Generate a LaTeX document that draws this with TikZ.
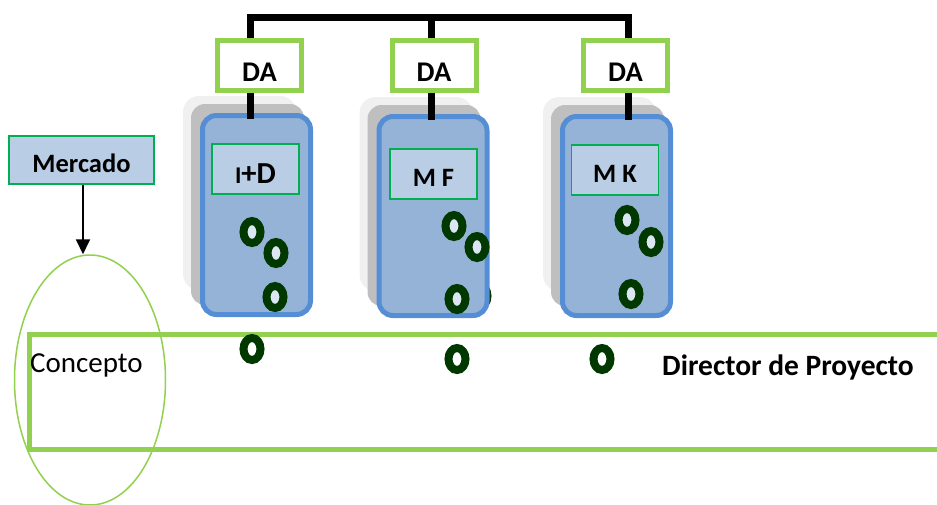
\documentclass[tikz,border=0pt]{standalone}
\usepackage{fontspec}
\setmainfont{Carlito}
\usetikzlibrary{arrows.meta,shapes.geometric}

\definecolor{leaf}{HTML}{92D050}
\definecolor{unitedge}{HTML}{558ED5}
\definecolor{unitfill}{HTML}{95B3D7}
\definecolor{tagedge}{HTML}{00B050}
\definecolor{tagfill}{HTML}{B9CDE5}
\definecolor{ringgreen}{RGB}{0,56,0}
\definecolor{holefill}{HTML}{DCE6F2}
\definecolor{shadowgray}{HTML}{BFBFBF}
\definecolor{halo}{HTML}{F0F0F0}

\pgfdeclarelayer{shade}
\pgfsetlayers{shade,main}

\tikzset{
  bus/.style={line width=7pt, black},
  dabox/.style={draw=leaf, line width=5pt, fill=white, minimum width=84pt,
    minimum height=50pt, inner sep=0pt,
    font=\bfseries\fontsize{28.5}{30}\selectfont, text height=31pt, text depth=0pt},
  unit/.style={draw=unitedge, fill=unitfill, line width=5pt, rounded corners=14pt,
    minimum width=108pt, minimum height=199pt, inner sep=0pt},
  tag/.style={draw=tagedge, fill=tagfill, line width=1.5pt, minimum width=87pt,
    minimum height=50pt, inner sep=0pt,
    font=\bfseries\fontsize{26.5}{28}\selectfont, text height=24pt, text depth=0pt},
  ring/.style={ellipse, draw=ringgreen, line width=8pt, minimum width=17pt,
    minimum height=22pt, inner sep=0pt, fill=holefill},
  outring/.style={ring, fill=white},
}

\begin{document}
\begin{tikzpicture}[x=1pt,y=-1pt]
\useasboundingbox (0,0) rectangle (937,504);
\clip (0,0) rectangle (937,504);

% stem positions of the top bus
\coordinate (s1) at (250,0);
\coordinate (s2) at (431,0);
\coordinate (s3) at (628,0);
\coordinate (bar) at (0,17);

% department heads
\node[dabox] (da1) at (259.5,65.5) {DA};
\node[dabox] (da2) at (434,65.5) {DA};
\node[dabox] (da3) at (625.5,65.5) {DA};

% bus joining the department heads
\draw[bus] (s1 |- da1.north) -- (s1 |- bar) -- (s3 |- bar) -- (s3 |- da3.north);
\draw[bus] (s2 |- bar) -- (s2 |- da2.north);

% functional units
\node[unit] (u1) at (256.5,215) {};
\node[unit] (u2) at (433,216) {};
\node[unit] (u3) at (616.5,216) {};

% soft shadows behind the units
\begin{pgfonlayer}{shade}
  \foreach \u in {u1,u2,u3}{
    \fill[halo, rounded corners=16pt] ([shift={(-17,-17)}]\u.north west) rectangle ([shift={(-17,-27)}]\u.south east);
    \fill[shadowgray, rounded corners=14pt] ([shift={(-9,-9)}]\u.north west) rectangle ([shift={(-9,-12)}]\u.south east);
  }
  \node[ring] (r24) at (479,296) {};
\end{pgfonlayer}

% links from heads to units
\draw[bus, shorten >=-6pt] (s1 |- da1.south) -- (s1 |- u1.north);
\draw[bus, shorten >=-6pt] (s2 |- da2.south) -- (s2 |- u2.north);
\draw[bus, shorten >=-6pt] (s3 |- da3.south) -- (s3 |- u3.north);

% unit names
\node[tag, text height=28pt] (t1) at (255.5,169) {{\fontsize{24}{26}\selectfont I}{\fontsize{30.5}{32}\selectfont +D}};
\node[tag] (t2) at (433.5,174) {M F};
\node[tag] (t3) at (615,170) {M K};

% team members inside each unit
\node[ring] (r11) at (252,232) {};
\node[ring] (r12) at (276,253) {};
\node[ring] (r13) at (275,297) {};
\node[ring] (r21) at (454,226) {};
\node[ring] (r22) at (477,247) {};
\node[ring] (r23) at (457,299) {};
\node[ring] (r31) at (627,220) {};
\node[ring] (r32) at (651,242) {};
\node[ring] (r33) at (631,294) {};

% project band
\draw[leaf, line width=5pt] (950,334) -- (29.5,334) -- (29.5,449.5) -- (950,449.5);

% market and concept
\node[draw=tagedge, fill=tagfill, line width=1.5pt, minimum width=145pt,
  minimum height=48pt, inner sep=0pt, font=\bfseries\fontsize{26.5}{28}\selectfont,
  text height=24pt, text depth=0pt] (merc) at (81.5,160) {Mercado};
\node[ellipse, draw=leaf, line width=1.5pt, minimum width=151pt,
  minimum height=250pt, inner sep=0pt] (ell) at (90,380) {};
\coordinate (ax) at (83,0);
\draw[line width=2pt, -{Triangle[length=15pt,width=14pt]}] (merc.south -| ax) -- (ell.north -| ax);

\node[anchor=base west, inner sep=0pt, font=\fontsize{29}{31}\selectfont] (concepto) at (30,372) {Concepto};
\node[anchor=base, inner sep=0pt, font=\bfseries\fontsize{29.5}{31}\selectfont] (dir) at (788,375) {Director de Proyecto};

% team members in the project band
\node[outring] (b1) at (252,349) {};
\node[outring] (b2) at (457,359) {};
\node[outring] (b3) at (602,359) {};
\end{tikzpicture}
\end{document}
